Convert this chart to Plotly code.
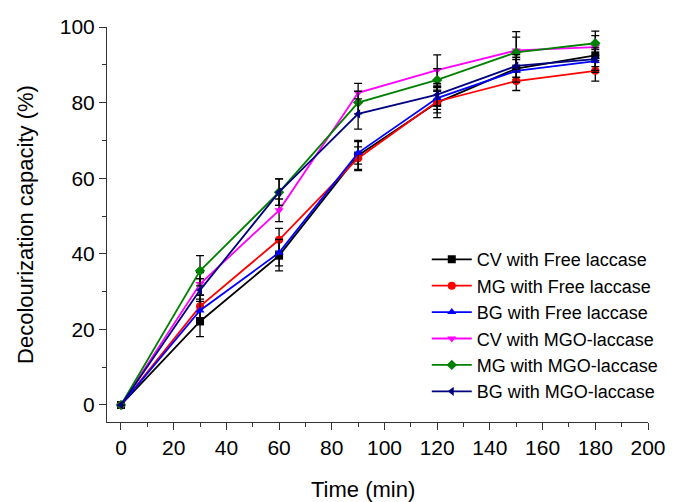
import plotly.graph_objects as go

time_min = [0, 30, 60, 90, 120, 150, 180]

series_names = [
    "CV with Free laccase",
    "MG with Free laccase",
    "BG with Free laccase",
    "CV with MGO-laccase",
    "MG with MGO-laccase",
    "BG with MGO-laccase",
]

cv_free = [0, 22.1, 39.5, 66.0, 80.0, 89.0, 92.5]
mg_free = [0, 26.1, 43.7, 65.3, 80.3, 85.7, 88.4]
bg_free = [0, 25.0, 40.3, 66.7, 81.2, 88.4, 91.0]
cv_mgo = [0, 32.0, 51.5, 82.6, 88.6, 93.8, 94.7]
mg_mgo = [0, 35.5, 56.3, 80.0, 86.0, 93.3, 95.7]
bg_mgo = [0, 30.4, 56.3, 77.0, 82.1, 89.7, 91.5]

cv_free_err = [0, 4.0, 4.0, 4.0, 4.0, 3.0, 3.0]
mg_free_err = [0, 3.0, 3.0, 3.0, 3.0, 2.5, 2.7]
bg_free_err = [0, 3.0, 3.5, 3.0, 3.0, 3.0, 3.0]
cv_mgo_err = [0, 3.0, 3.0, 2.5, 4.0, 5.0, 3.0]
mg_mgo_err = [0, 4.0, 3.5, 3.0, 3.0, 4.0, 3.2]
bg_mgo_err = [0, 3.0, 3.5, 4.0, 3.0, 3.0, 3.0]

values = [cv_free, mg_free, bg_free, cv_mgo, mg_mgo, bg_mgo]
errors = [cv_free_err, mg_free_err, bg_free_err, cv_mgo_err, mg_mgo_err, bg_mgo_err]
colors = ["#000000", "#FF0000", "#0000FF", "#FF00FF", "#008000", "#000080"]
symbols = ["square", "circle", "triangle-up", "triangle-down", "diamond", "triangle-left"]

x_ticks = list(range(0, 201, 20))
y_ticks = list(range(0, 101, 20))

fig = go.Figure()
for name, v, e, c, s in zip(series_names, values, errors, colors, symbols):
    fig.add_trace(go.Scatter(
        x=time_min, y=v, name=name, mode="lines+markers",
        line=dict(color=c, width=1.8),
        marker=dict(symbol=s, color=c, size=8),
        error_y=dict(type="data", array=e, visible=True, color="#000000",
                     thickness=1.3, width=4),
    ))

font_family = "Liberation Sans, Arial, sans-serif"
fig.update_layout(
    width=675, height=502,
    paper_bgcolor="white", plot_bgcolor="white",
    margin=dict(l=107, r=26, t=27, b=80),
    font=dict(family=font_family, color="#000000"),
    showlegend=True,
    legend=dict(
        x=0.59, y=0.458, xanchor="left", yanchor="top",
        bgcolor="rgba(255,255,255,0)", font=dict(size=18, family=font_family),
        tracegroupgap=0, itemwidth=40,
    ),
    xaxis=dict(
        range=[-5.3, 200], tickvals=x_ticks, ticks="outside", ticklen=7,
        tickwidth=1, tickcolor="#333333", showline=True, linecolor="#333333",
        linewidth=1, showgrid=False, zeroline=False, automargin=False,
        tickfont=dict(size=21),
        minor=dict(dtick=10, tick0=0, ticks="outside", ticklen=4, tickcolor="#333333"),
    ),
    yaxis=dict(
        range=[-4.5, 100], tickvals=y_ticks, ticks="outside", ticklen=7,
        tickwidth=1, tickcolor="#333333", showline=True, linecolor="#333333",
        linewidth=1, showgrid=False, zeroline=False, automargin=False,
        tickfont=dict(size=21),
        title=dict(text="Decolourization capacity (%)", font=dict(size=22), standoff=20),
        minor=dict(dtick=10, tick0=0, ticks="outside", ticklen=4, tickcolor="#333333"),
    ),
    annotations=[dict(
        text="Time (min)", xref="paper", yref="paper", x=0.473, y=-0.17,
        xanchor="center", yanchor="middle", showarrow=False,
        font=dict(size=22, family=font_family, color="#000000"),
    )],
)

fig.write_html("out.html", config={"displayModeBar": False},
               post_script="document.body.style.margin='0px';")
